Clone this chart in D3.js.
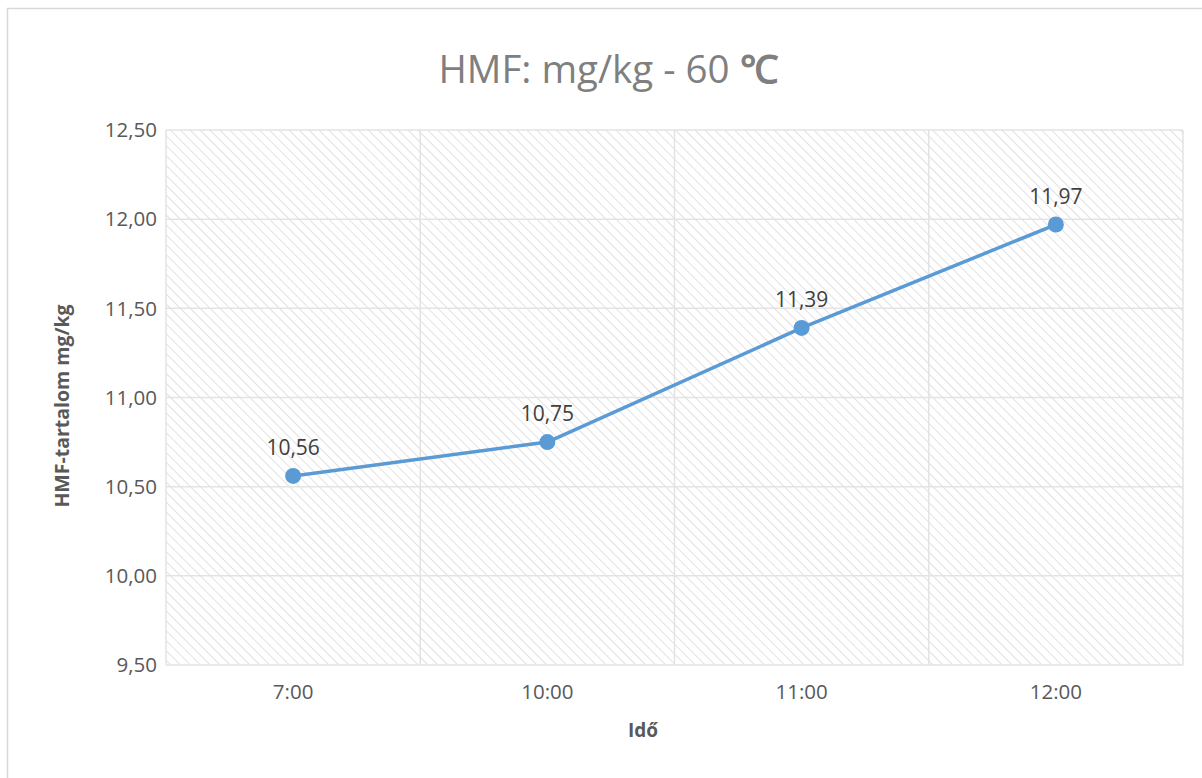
<!DOCTYPE html>
<html><head><meta charset="utf-8">
<script src="https://cdn.jsdelivr.net/npm/d3@7"></script>
<style>body{margin:0;background:#fff;}svg{display:block;font-family:"Open Sans",sans-serif;}</style>
</head><body><svg id="c" width="1202" height="778"></svg>
<script>
const categories = ["7:00","10:00","11:00","12:00"];
const values = [10.56, 10.75, 11.39, 11.97];
const yTicks = [9.5, 10, 10.5, 11, 11.5, 12, 12.5];
const titleText = "HMF: mg/kg - 60 ";
const titleUnit = "℃";
const xTitle = "Idő";
const yTitle = "HMF-tartalom mg/kg";

const svg = d3.select("#c");
const m = {l:166, r:1183, t:130, b:665};
const fmt = v => d3.format(".2f")(v).replace(".", ",");

svg.append("rect").attr("x",7.5).attr("y",8.5).attr("width",1200).attr("height",790)
  .attr("fill","#fff").attr("stroke","#d9d9d9").attr("stroke-width",1.5);

const defs = svg.append("defs");
const pat = defs.append("pattern").attr("id","hatch").attr("patternUnits","userSpaceOnUse")
  .attr("width",7).attr("height",7).attr("patternTransform","rotate(-45)");
pat.append("line").attr("x1",0).attr("y1",0).attr("x2",0).attr("y2",7)
  .attr("stroke","#c4c4c4").attr("stroke-width",1);

const x = d3.scaleBand().domain(categories).range([m.l, m.r]);
const y = d3.scaleLinear().domain([9.5, 12.5]).range([m.b, m.t]);

svg.append("rect").attr("x",m.l).attr("y",m.t).attr("width",m.r-m.l).attr("height",m.b-m.t)
  .attr("fill","url(#hatch)");

svg.append("g").selectAll("line").data(yTicks).join("line")
  .attr("x1",m.l).attr("x2",m.r).attr("y1",d=>y(d)).attr("y2",d=>y(d))
  .attr("stroke","#e3e3e3").attr("stroke-width",1.5);
const edges = categories.map(c=>x(c)).concat([x(categories[categories.length-1])+x.bandwidth()]);
svg.append("g").selectAll("line").data(edges).join("line")
  .attr("x1",d=>d).attr("x2",d=>d).attr("y1",m.t).attr("y2",m.b)
  .attr("stroke","#e3e3e3").attr("stroke-width",1.5);

svg.append("g").selectAll("text").data(yTicks).join("text")
  .attr("x",m.l-9).attr("y",d=>y(d)).attr("dy","0.35em").attr("text-anchor","end")
  .attr("font-size",20.5).attr("fill","#595959").text(d=>fmt(d));
svg.append("g").selectAll("text").data(categories).join("text")
  .attr("x",d=>x(d)+x.bandwidth()/2).attr("y",m.b+34).attr("text-anchor","middle")
  .attr("font-size",20.5).attr("fill","#595959").text(d=>d);

const line = d3.line().x((d,i)=>x(categories[i])+x.bandwidth()/2).y(d=>y(d));
svg.append("path").datum(values).attr("d",line).attr("fill","none")
  .attr("stroke","#5b9bd5").attr("stroke-width",3.5).attr("stroke-linejoin","round");
svg.append("g").selectAll("circle").data(values).join("circle")
  .attr("cx",(d,i)=>x(categories[i])+x.bandwidth()/2).attr("cy",d=>y(d)).attr("r",8)
  .attr("fill","#5b9bd5");
svg.append("g").selectAll("text").data(values).join("text")
  .attr("x",(d,i)=>x(categories[i])+x.bandwidth()/2).attr("y",d=>y(d)-21)
  .attr("text-anchor","middle").attr("font-size",21).attr("fill","#404040").text(d=>fmt(d));

const t = svg.append("text").attr("x",608).attr("y",83).attr("text-anchor","middle")
  .attr("font-size",38.5).attr("fill","#7f7f7f");
t.append("tspan").text(titleText);
t.append("tspan").attr("font-weight","bold").text(titleUnit);

svg.append("text").attr("x",643).attr("y",737).attr("text-anchor","middle")
  .attr("font-size",19).attr("font-weight","bold").attr("fill","#595959").text(xTitle);
svg.append("text").attr("transform","translate(69,406) rotate(-90)").attr("text-anchor","middle")
  .attr("font-size",19.5).attr("font-weight","bold").attr("fill","#595959").text(yTitle);
</script></body></html>
